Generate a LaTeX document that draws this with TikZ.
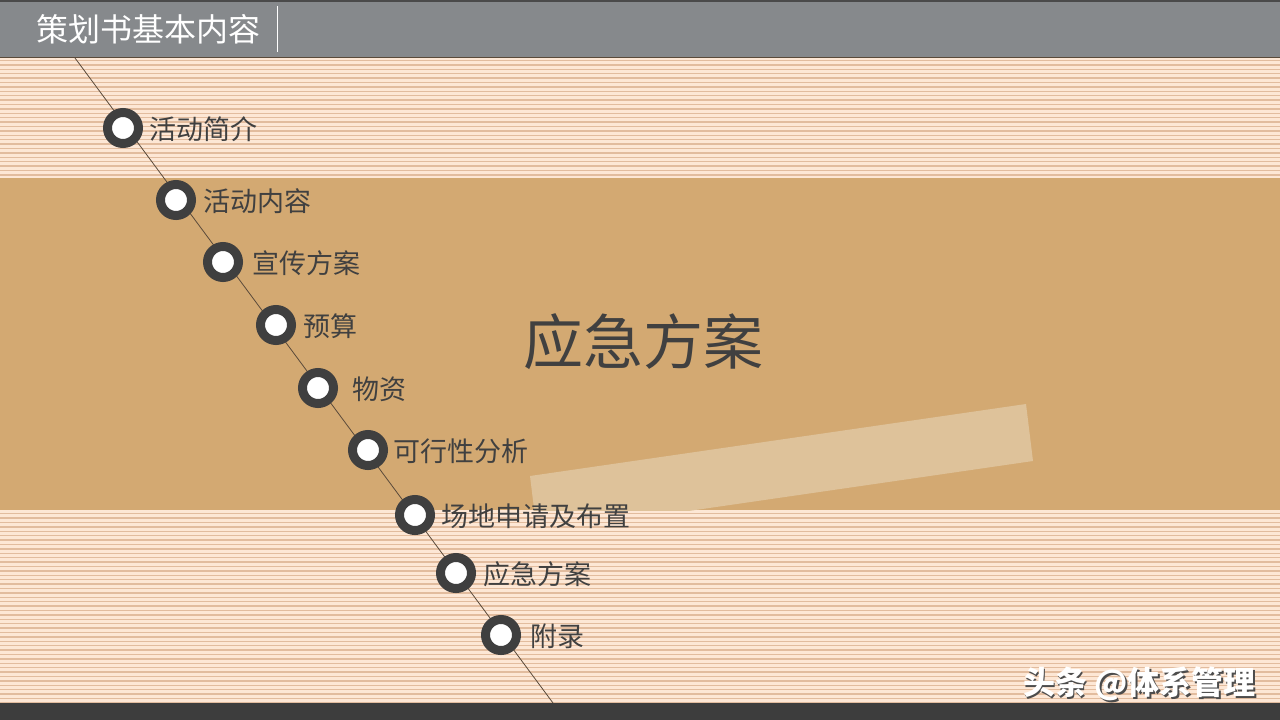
\documentclass[tikz,border=0pt]{standalone}
\usepackage{fontspec}
\newfontfamily\cjk{Noto Sans CJK SC}
\definecolor{hdr}{HTML}{86898C}
\definecolor{hdrline}{HTML}{4A4A4A}
\definecolor{peach}{HTML}{FDE7D5}
\definecolor{stripe}{HTML}{E2BC9E}
\definecolor{band}{HTML}{D3A972}
\definecolor{lightbar}{HTML}{DEC29A}
\definecolor{ring}{HTML}{3F3F3F}
\definecolor{txt}{HTML}{404040}
\definecolor{footer}{HTML}{3D3D3D}
\definecolor{diag}{HTML}{5A4A3A}
\begin{document}
\begin{tikzpicture}[x=1pt,y=-1pt,
  dot/.style={circle,draw=ring,line width=9pt,fill=white,minimum size=31pt,inner sep=0pt},
  item/.style={anchor=west,text=txt,inner sep=0pt,font=\cjk\fontsize{27}{32}\selectfont},
]
\useasboundingbox (0,0) rectangle (1280,720);
% stripe background
\fill[peach] (0,57) rectangle (1280,703);
\foreach \y in {60.5,64.9,...,703}{
  \draw[stripe,line width=1.3pt] (0,\y) -- (1280,\y);
}
% band
\fill[band] (0,178) rectangle (1280,510);
\begin{scope}
  \clip (0,178) rectangle (1280,510);
  \fill[lightbar] (530,476) -- (1026,404) -- (1033,461) -- (537,533) -- cycle;
\end{scope}
% header
\fill[hdr] (0,0) rectangle (1280,57);
\draw[hdrline,line width=1.5pt] (0,0.75) -- (1280,0.75);
\draw[diag,line width=1.5pt] (0,57.5) -- (1280,57.5);
\node[anchor=west,text=white,inner sep=0pt,font=\cjk\fontsize{32}{38}\selectfont] (title) at (36,29) {策划书基本内容};
\draw[white,line width=1pt] (277,6) -- (277,52);
% footer
\fill[footer] (0,703) rectangle (1280,720);
% diagonal
\coordinate (dtop) at (75,58);
\coordinate (dbot) at (553,703);
\draw[diag,line width=0.8pt] (dtop) -- (dbot);
% items
\foreach \n/\cx/\cy/\tx/\t in {
  1/123/128/149/活动简介,
  2/176/200/203/活动内容,
  3/223/262/252/宣传方案,
  4/276/325/303/预算,
  5/318/388/352/物资,
  6/368/450/393/可行性分析,
  7/415/515/441/场地申请及布置,
  8/456/573/483/应急方案,
  9/501/635/530/附录}{
  \node[dot] (c\n) at (\cx,\cy) {};
  \node[item] (t\n) at (\tx,\cy+1) {\t};
}
% big title
\node[text=txt,inner sep=0pt,font=\cjk\fontsize{60}{70}\selectfont] (big) at (643,342) {应急方案};
% watermark
\node[anchor=west,text=black!70,inner sep=0pt,font=\cjk\bfseries\fontsize{32}{38}\selectfont] (wms) at (1024.5,685.5) {头条 @体系管理};
\node[anchor=west,text=white,inner sep=0pt,font=\cjk\bfseries\fontsize{32}{38}\selectfont] (wm) at (1023,684) {头条 @体系管理};
\end{tikzpicture}
\end{document}
